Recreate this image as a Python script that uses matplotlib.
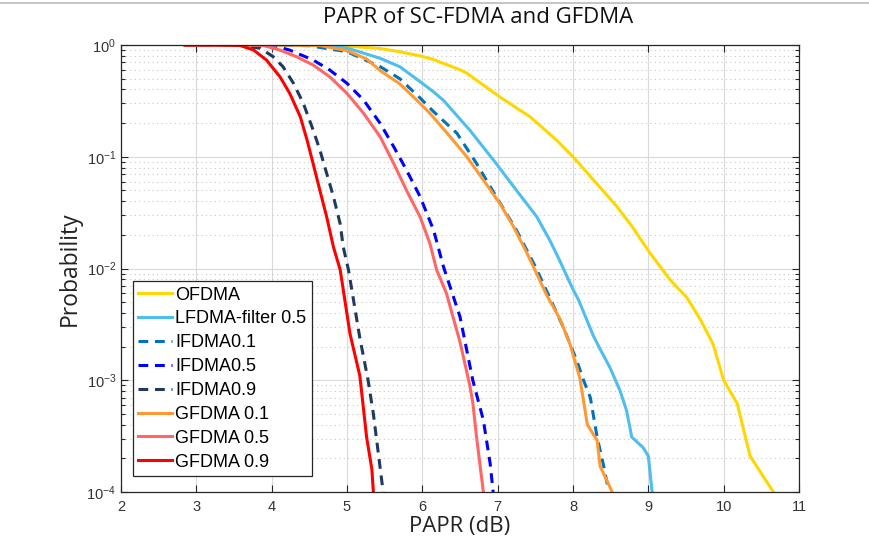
import matplotlib
matplotlib.use("Agg")
import matplotlib.pyplot as plt
from matplotlib.lines import Line2D
from matplotlib.ticker import LogLocator, FixedLocator, NullFormatter

plt.rcParams['mathtext.fontset'] = 'custom'
plt.rcParams['mathtext.rm'] = 'Liberation Sans'
plt.rcParams['mathtext.it'] = 'Liberation Sans'

# ---- data ----
ofdma_x = [2.85, 4.5, 4.9, 5.44, 5.70, 5.97, 6.15, 6.5, 6.59, 7.05, 7.43, 7.78, 8.0, 8.31, 8.58, 8.78,
           9.02, 9.29, 9.51, 9.69, 9.86, 10.0, 10.18, 10.35, 10.66]
ofdma_p = [1.0, 0.998, 0.99, 0.93, 0.87, 0.80, 0.74, 0.6, 0.56, 0.335, 0.228, 0.141, 0.1, 0.058, 0.036, 0.024,
           0.0138, 0.0079, 0.0055, 0.0035, 0.0021, 0.001, 6.2e-4, 2.1e-4, 1e-4]

lfdma_x = [2.85, 4.0, 4.55, 5.0, 5.44, 5.70, 5.97, 6.15, 6.28, 6.63, 6.98, 7.25, 7.52, 7.69, 7.81, 8.0,
           8.07, 8.27, 8.36, 8.49, 8.62, 8.71, 8.78, 8.93, 9.0, 9.05]
lfdma_p = [1.0, 1.0, 0.995, 0.94, 0.76, 0.64, 0.47, 0.38, 0.32, 0.173, 0.087, 0.05, 0.029, 0.018, 0.0123, 0.0065,
           0.0053, 0.0025, 0.0019, 0.0013, 8.2e-4, 5.4e-4, 3.1e-4, 2.5e-4, 2.1e-4, 1e-4]

ifdma01_x = [2.85, 4.0, 4.5, 5.0, 5.44, 5.70, 5.97, 6.15, 6.46, 6.72, 6.98, 7.25, 7.50, 7.69, 7.87,
             8.05, 8.14, 8.23, 8.32, 8.40, 8.47]
ifdma01_p = [1.0, 1.0, 0.985, 0.87, 0.64, 0.50, 0.336, 0.253, 0.162, 0.087, 0.044, 0.022, 0.0104, 0.0055, 0.003,
             0.0015, 0.001, 7e-4, 3.1e-4, 1.8e-4, 1.05e-4]

ifdma05_x = [2.85, 3.6, 4.02, 4.24, 4.55, 4.77, 5.0, 5.22, 5.44, 5.62, 5.79, 5.97, 6.15, 6.28, 6.50, 6.67,
             6.81, 6.90, 6.94]
ifdma05_p = [1.0, 1.0, 0.99, 0.90, 0.734, 0.598, 0.454, 0.322, 0.199, 0.123, 0.076, 0.044, 0.022, 0.0104,
             0.0037, 0.001, 4.4e-4, 1.8e-4, 1e-4]

ifdma09_x = [2.85, 3.3, 3.6, 3.85, 4.02, 4.15, 4.29, 4.42, 4.55, 4.64, 4.73, 4.82, 4.91, 4.95, 5.02, 5.17,
             5.28, 5.35, 5.40, 5.48]
ifdma09_p = [1.0, 1.0, 0.99, 0.934, 0.786, 0.64, 0.454, 0.301, 0.174, 0.115, 0.071, 0.044, 0.025, 0.0156,
             0.0097, 0.0024, 0.001, 5e-4, 2.7e-4, 1e-4]

gfdma01_x = [2.85, 4.0, 4.64, 5.0, 5.26, 5.44, 5.70, 5.97, 6.10, 6.37, 6.59, 6.81, 7.03, 7.21, 7.39, 7.65,
             7.83, 7.96, 8.09, 8.16, 8.19, 8.32, 8.36, 8.52]
gfdma01_p = [1.0, 0.999, 0.99, 0.89, 0.75, 0.59, 0.45, 0.30, 0.245, 0.151, 0.1, 0.062, 0.038, 0.0237, 0.0137,
             0.0058, 0.0035, 0.0021, 0.00105, 5.4e-4, 4e-4, 2.9e-4, 1.7e-4, 1e-4]

gfdma05_x = [2.85, 3.5, 3.89, 4.11, 4.33, 4.55, 4.77, 5.0, 5.22, 5.44, 5.62, 5.79, 5.97, 6.10, 6.19, 6.32,
             6.50, 6.63, 6.67, 6.72, 6.81]
gfdma05_p = [1.0, 1.0, 0.99, 0.90, 0.786, 0.662, 0.52, 0.369, 0.245, 0.151, 0.087, 0.05, 0.029, 0.0168,
             0.0097, 0.006, 0.0022, 9e-4, 6.3e-4, 3.1e-4, 1e-4]

gfdma09_x = [2.85, 3.3, 3.58, 3.76, 3.93, 4.11, 4.24, 4.38, 4.47, 4.55, 4.64, 4.73, 4.82, 4.91, 5.04, 5.17,
             5.21, 5.26, 5.33, 5.35]
gfdma09_p = [1.0, 1.0, 0.99, 0.902, 0.734, 0.52, 0.369, 0.228, 0.141, 0.087, 0.05, 0.029, 0.0156, 0.0097,
             0.0026, 0.0011, 6.3e-4, 3.1e-4, 1.6e-4, 1e-4]

labels = ["OFDMA", "LFDMA-filter 0.5", "IFDMA0.1", "IFDMA0.5", "IFDMA0.9",
          "GFDMA 0.1", "GFDMA 0.5", "GFDMA 0.9"]
x_ticks = [2, 3, 4, 5, 6, 7, 8, 9, 10, 11]

series = [
    (ofdma_x, ofdma_p, '#FFD700', '-'),
    (lfdma_x, lfdma_p, '#4DBEEE', '-'),
    (ifdma01_x, ifdma01_p, '#0072BD', '--'),
    (ifdma05_x, ifdma05_p, '#0000FF', '--'),
    (ifdma09_x, ifdma09_p, '#1F3A5F', '--'),
    (gfdma01_x, gfdma01_p, '#FF9933', '-'),
    (gfdma05_x, gfdma05_p, '#FF6666', '-'),
    (gfdma09_x, gfdma09_p, '#FF0000', '-'),
]

fig = plt.figure(figsize=(8.7, 5.52), dpi=100)
ax = fig.add_axes([121/870, 1-492/552, (799-121)/870, (492-45)/552])

for (xs, ps, c, ls), lab in zip(series, labels):
    if ls == '--':
        ax.plot(xs, ps, color=c, lw=2.2, ls='--', dashes=(3.2, 2.2), label=lab,
                solid_joinstyle='round')
    else:
        ax.plot(xs, ps, color=c, lw=2.2, ls='-', label=lab, solid_joinstyle='round')

ax.set_yscale('log')
ax.set_xlim(2, 11)
ax.set_ylim(1e-4, 1)
ax.xaxis.set_major_locator(FixedLocator(x_ticks))
ax.yaxis.set_major_locator(LogLocator(base=10, numticks=10))
ax.yaxis.set_minor_locator(LogLocator(base=10, subs=range(2, 10), numticks=20))
ax.yaxis.set_minor_formatter(NullFormatter())

ax.grid(True, which='major', color='#DADADA', lw=0.8, ls='-')
ax.grid(True, which='minor', axis='y', color='#C8C8C8', lw=0.8, ls=(0, (1, 3)))
ax.set_axisbelow(True)

ax.tick_params(which='both', direction='in', top=True, right=True, labelsize=10.5,
               colors='#262626', labelcolor='#333333')
ax.tick_params(which='major', length=5, width=0.8)
ax.tick_params(axis='x', which='major', pad=6)
ax.tick_params(which='minor', length=3, width=0.8)
for sp in ax.spines.values():
    sp.set_color('#262626')
    sp.set_linewidth(0.9)
for lbl in ax.get_xticklabels() + ax.get_yticklabels():
    lbl.set_family('Liberation Sans')

ax.set_xlabel('PAPR (dB)', fontsize=16, family='Open Sans', labelpad=1, color='#222222')
ax.set_ylabel('Probability', fontsize=16.5, family='Open Sans', labelpad=3, color='#222222')
ax.set_title('PAPR of SC-FDMA and GFDMA', fontsize=16, family='Open Sans', pad=16, color='#111111',
             x=(478-121)/678)

leg = ax.legend(loc='lower left', bbox_to_anchor=(12/678, 16/447),
                prop={'family': 'Liberation Sans', 'size': 13},
                frameon=True, fancybox=False, edgecolor='#262626', framealpha=1,
                handlelength=1.85, handletextpad=0.2, labelspacing=0.38, borderpad=0.3,
                borderaxespad=0.0)
leg.get_frame().set_linewidth(0.9)

fig.add_artist(Line2D([0, 1], [1-3/552, 1-3/552], color='#BBBBBB', lw=1.2, transform=fig.transFigure))

fig.savefig('out.png', dpi=100)
